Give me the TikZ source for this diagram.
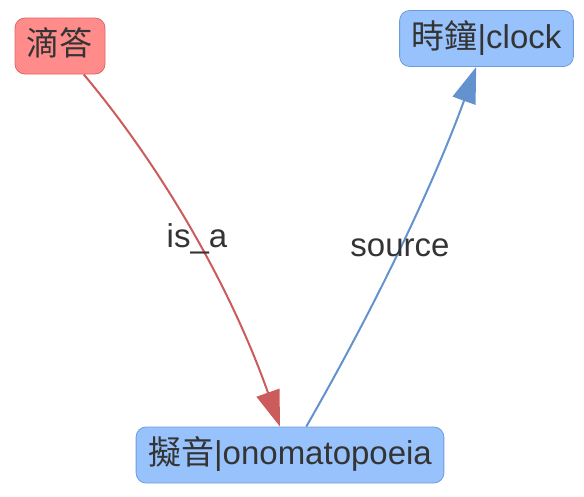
\documentclass[tikz,border=0pt]{standalone}
\usepackage{fontspec}
\setmainfont{Liberation Sans}
\newfontfamily\cjk{Noto Sans CJK TC}
\usetikzlibrary{arrows.meta,positioning,calc}
\definecolor{redfill}{HTML}{FF8B8B}
\definecolor{reddraw}{HTML}{E06464}
\definecolor{bluefill}{HTML}{97C2FC}
\definecolor{bluedraw}{HTML}{6D9BDB}
\definecolor{rededge}{HTML}{CC5B5B}
\definecolor{blueedge}{HTML}{6392CF}
\definecolor{txt}{HTML}{343434}

\begin{document}
\begin{tikzpicture}[x=1pt,y=-1pt,
  box/.style={rectangle,draw,rounded corners=10pt,line width=0.8pt,
              minimum height=56pt,inner xsep=12pt,inner ysep=0pt,
              text height=24pt,text depth=5pt,text=txt,
              font=\fontsize{33}{39}\selectfont},
  lbl/.style={text=txt,inner sep=0pt,font=\fontsize{33}{39}\selectfont},
  arrow/.style={-{Triangle[length=36pt,width=24pt]},line width=2pt}
]
\useasboundingbox (0,0) rectangle (584,496);

\node[box,fill=redfill,draw=reddraw]   (dida)  at (60,46)  {{\cjk 滴答}};
\node[box,fill=bluefill,draw=bluedraw] (clock) at (486.5,38.5) {{\cjk 時鐘}|clock};
\node[box,fill=bluefill,draw=bluedraw] (niyin) at (290,455) {{\cjk 擬音}|onomatopoeia};

% control points of the two bends
\coordinate (isa1) at (163,169);
\coordinate (isa2) at (231,288);
\coordinate (src1) at (380,298);
\coordinate (src2) at (436,178);

\draw[arrow,draw=rededge] (dida) .. controls (isa1) and (isa2) .. (niyin);
\draw[arrow,draw=blueedge] (niyin) .. controls (src1) and (src2) .. (clock);

\node[lbl] (isalbl) at (197,239) {is\_a};
\node[lbl] (srclbl) at (400,248) {source};
\end{tikzpicture}
\end{document}
